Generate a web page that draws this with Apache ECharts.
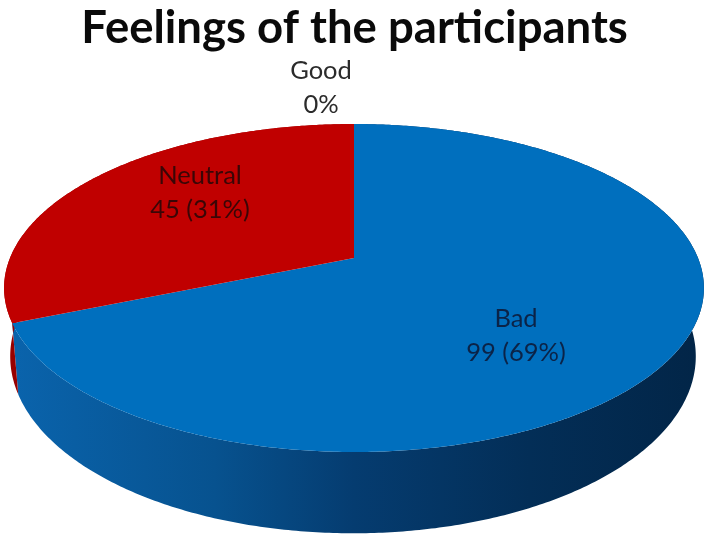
<!DOCTYPE html>
<html>
<head>
<meta charset="utf-8">
<style>html,body{margin:0;padding:0;background:#fff}#chart{width:709px;height:543px}</style>
<script src="https://cdn.jsdelivr.net/npm/echarts@6/dist/echarts.min.js"></script>
</head>
<body>
<div id="chart"></div>
<script>
var titleText = 'Feelings of the participants';
var categories = ['Bad', 'Neutral', 'Good'];
var values = [99, 45, 0];
var faceColors = ['#006fbe', '#c00000', '#9bbb59'];
var labelColors = ['#0b2347', '#3a0606', '#2b2b2b'];

var total = values.reduce(function (a, b) { return a + b; }, 0);
var P = 0.183;
var topRim = { cx: 354, cy: 258, r: 344, h: 158.5 };
var botRim = { cx: 353, cy: 324, r: 337, h: 171 };
var labelPos = [[516, 336], [200, 193], [321, 88]];

function project(rim, a) {
  var u = Math.sin(a), v = Math.cos(a), w = 1 + P * v;
  return [rim.cx + rim.r * u / w, rim.cy - rim.h * v / w];
}
function range(i) {
  var s = 0;
  for (var k = 0; k < i; k++) s += values[k];
  return [s / total * 2 * Math.PI, (s + values[i]) / total * 2 * Math.PI];
}
function arc(rim, a0, a1) {
  var n = Math.max(2, Math.ceil((a1 - a0) / 0.01)), pts = [];
  for (var j = 0; j <= n; j++) pts.push(project(rim, a0 + (a1 - a0) * j / n));
  return pts;
}
function labelText(i) {
  var pct = Math.round(values[i] / total * 100) + '%';
  return categories[i] + '\n' + (values[i] ? values[i] + ' (' + pct + ')' : pct);
}
var wallFill = [
  { type: 'linear', global: true, x: 5, y: 0, x2: 704, y2: 0, colorStops: [
    { offset: 0, color: '#0a64ad' }, { offset: 0.3, color: '#07528f' },
    { offset: 0.5, color: '#053c70' }, { offset: 0.75, color: '#032e57' },
    { offset: 1, color: '#022547' } ] },
  '#980000',
  '#7a9440'
];
var seriesData = values.map(function (v, i) { return { name: categories[i], value: v }; });

var option = {
  animation: false,
  backgroundColor: '#fff',
  title: {
    text: titleText, left: 'center', top: 0,
    textStyle: { fontFamily: 'Lato', fontWeight: 'bold', fontSize: 45.5, color: '#0a0a0a' }
  },
  series: [
    {
      type: 'custom', coordinateSystem: 'none', data: seriesData, silent: true, z: 1,
      renderItem: function (params, api) {
        var i = params.dataIndex;
        if (!api.value(0)) return null;
        var r = range(i);
        var pts = arc(topRim, r[0], r[1]).concat(arc(botRim, r[0], r[1]).reverse());
        return { type: 'polygon', shape: { points: pts }, style: { fill: wallFill[i] } };
      }
    },
    {
      type: 'custom', coordinateSystem: 'none', data: seriesData, silent: true, z: 2,
      renderItem: function (params, api) {
        var i = params.dataIndex;
        if (!api.value(0)) return null;
        var r = range(i);
        var pts = [[topRim.cx, topRim.cy]].concat(arc(topRim, r[0], r[1]));
        return { type: 'polygon', shape: { points: pts }, style: { fill: faceColors[i] } };
      }
    },
    {
      type: 'custom', coordinateSystem: 'none', data: seriesData, silent: true, z: 3,
      renderItem: function (params) {
        var i = params.dataIndex;
        return {
          type: 'text',
          style: {
            x: labelPos[i][0], y: labelPos[i][1], text: labelText(i),
            fill: labelColors[i], font: '25.5px Lato', lineHeight: 34,
            align: 'center', verticalAlign: 'middle'
          }
        };
      }
    }
  ]
};
var chart = echarts.init(document.getElementById('chart'), null, { renderer: 'canvas' });
chart.setOption(option);
</script>
</body>
</html>
